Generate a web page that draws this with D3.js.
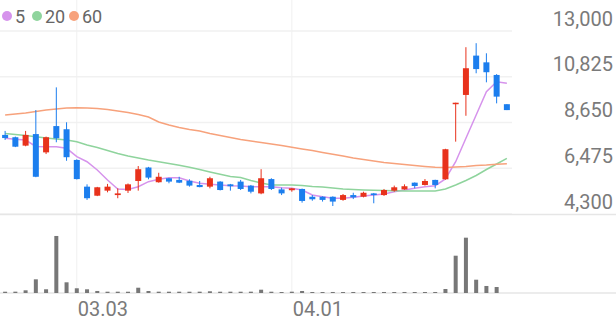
<!DOCTYPE html>
<html>
<head>
<meta charset="utf-8">
<script src="https://cdn.jsdelivr.net/npm/d3@7"></script>
<style>
body { margin: 0; background: #fff; }
text { font-family: Roboto, sans-serif; }
</style>
</head>
<body>
<div id="chart"></div>
<script>
var dates = ['02.19', '02.20', '02.23', '02.24', '02.25', '02.26', '02.27', '03.03', '03.04', '03.05',
	'03.06', '03.09', '03.10', '03.11', '03.12', '03.13', '03.16', '03.17', '03.18', '03.19',
	'03.20', '03.23', '03.24', '03.25', '03.26', '03.27', '03.30', '03.31', '04.01', '04.02',
	'04.03', '04.06', '04.07', '04.08', '04.09', '04.10', '04.13', '04.14', '04.15', '04.16',
	'04.17', '04.20', '04.21', '04.22', '04.23', '04.24', '04.27', '04.28', '04.29', '04.30'];

var open = [8060, 7950, 7550, 8100, 7230, 8480, 8330, 6870, 5600, 5170,
	5410, 5200, 5410, 5870, 6510, 5810, 6000, 5920, 5880, 5680,
	5600, 5840, 5710, 5840, 5650, 5280, 5960, 5470, 5430, 5490,
	5120, 5120, 5120, 4970, 5200, 5120, 5280, 5200, 5410, 5470,
	5790, 5680, 5920, 5950, 9560, 9960, 11830, 11510, 10910, 9520];
var high = [8250, 7980, 8250, 9240, 7980, 10320, 8660, 6900, 5710, 5590,
	5730, 5520, 5750, 6580, 6540, 6260, 6020, 6070, 5950, 5870,
	6070, 5860, 5730, 5920, 5680, 6430, 6000, 5550, 5540, 5510,
	5200, 5140, 5140, 5250, 5310, 5360, 5300, 5490, 5650, 5710,
	5800, 5960, 5930, 7400, 9590, 12230, 12420, 11940, 10950, 9520];
var low = [7820, 7480, 7520, 6050, 7150, 7710, 6830, 5940, 4970, 5150,
	5330, 5050, 5300, 5410, 5950, 5790, 5760, 5770, 5600, 5570,
	5520, 5420, 5410, 5440, 5280, 5240, 5440, 5200, 5360, 4840,
	4930, 4890, 4680, 4930, 5010, 5090, 4810, 5160, 5360, 5450,
	5520, 5650, 5520, 5930, 7740, 8970, 10990, 10560, 9560, 9240];
var close = [7910, 7500, 8060, 6070, 7950, 7900, 7000, 5960, 5050, 5570,
	5600, 5280, 5710, 6430, 6030, 6070, 5840, 5790, 5650, 5580,
	6000, 5440, 5620, 5490, 5360, 6000, 5490, 5280, 5520, 4920,
	5000, 4970, 4890, 5200, 5090, 5310, 5200, 5440, 5570, 5620,
	5630, 5870, 5680, 7380, 9590, 11230, 11190, 11040, 9880, 9240];

var ma5 = [7899, 7851, 7818, 7509, 7499, 7499, 7423, 7024, 6786, 6392,
	5916, 5489, 5465, 5598, 5836, 5950, 6026, 6026, 5869, 5759,
	5712, 5679, 5645, 5631, 5598, 5598, 5598, 5550, 5522, 5441,
	5203, 5122, 5046, 5046, 5094, 5156, 5203, 5251, 5360, 5441,
	5522, 5598, 5645, 5964, 6786, 7899, 9006, 10114, 10590, 10513];
var ma20 = [8127, 8079, 8032, 7975, 7913, 7866, 7818, 7737, 7580, 7461,
	7319, 7176, 7057, 6962, 6867, 6786, 6701, 6615, 6520, 6416,
	6297, 6187, 6083, 6035, 5893, 5774, 5679, 5679, 5679, 5655,
	5607, 5584, 5536, 5489, 5465, 5441, 5427, 5417, 5408, 5393,
	5393, 5393, 5393, 5489, 5679, 5893, 6130, 6416, 6677, 6948];
var ma60 = [9006, 9054, 9101, 9173, 9244, 9292, 9339, 9353, 9339, 9315,
	9268, 9197, 9125, 9030, 8911, 8674, 8531, 8412, 8317, 8246,
	8127, 8032, 7937, 7842, 7770, 7699, 7628, 7556, 7471, 7390,
	7319, 7224, 7138, 7057, 6962, 6891, 6820, 6748, 6701, 6653,
	6606, 6558, 6520, 6511, 6534, 6558, 6606, 6629, 6663, 6691];

var volume = [64200, 66800, 134500, 683900, 186200, 2851300, 534700, 236100, 184900, 101300,
	64800, 65900, 63700, 264100, 99800, 66300, 64900, 65200, 63800, 66100,
	85400, 64600, 65700, 64300, 66500, 165200, 64100, 49800, 65300, 100200,
	50400, 49600, 51200, 48900, 50700, 49300, 50100, 50800, 49500, 51000,
	49900, 50300, 50600, 199700, 1864800, 2766100, 664900, 351200, 299400, 0];

var ma_names = ['5', '20', '60'];
var ma_colors = ['#d693ec', '#8fd49d', '#f7a27c'];
var x_tick_labels = ['03.03', '04.01'];
var y_tick_values = [13000, 10825, 8650, 6475, 4300];

var chart_width = 616;
var chart_height = 321;
var plot_right = 512;

var svg = d3.select('#chart')
	.append('svg')
	.attr('width', chart_width)
	.attr('height', chart_height);

// Scales
var x_scale = d3.scaleBand()
	.domain(dates)
	.range([0, plot_right]);
var y_scale = d3.scaleLinear()
	.domain([4300, 13000])
	.range([214, 31]);
var v_scale = d3.scaleLinear()
	.domain([0, 3900000])
	.range([293, 215]);

function cx(i) {
	return x_scale(dates[i]) + x_scale.bandwidth() / 2;
}

// Grid
svg.append('g').selectAll('line')
	.data(y_tick_values)
	.enter()
	.append('line')
	.attr('x1', 0)
	.attr('x2', plot_right)
	.attr('y1', function(d){ return y_scale(d); })
	.attr('y2', function(d){ return y_scale(d); })
	.attr('stroke', '#f1f1f1')
	.attr('stroke-width', 1.5);

svg.append('g').selectAll('line')
	.data(x_tick_labels)
	.enter()
	.append('line')
	.attr('x1', function(d){ return x_scale(d) + x_scale.bandwidth() / 2; })
	.attr('x2', function(d){ return x_scale(d) + x_scale.bandwidth() / 2; })
	.attr('y1', 0)
	.attr('y2', 293)
	.attr('stroke', '#f0f0f0')
	.attr('stroke-width', 1);

svg.append('g').selectAll('line')
	.data([214.5, 293])
	.enter()
	.append('line')
	.attr('x1', 0)
	.attr('x2', chart_width)
	.attr('y1', function(d){ return d; })
	.attr('y2', function(d){ return d; })
	.attr('stroke', '#e6e6e6')
	.attr('stroke-width', 1.5);

// Y axis
var y_axis = d3.axisLeft(y_scale)
	.tickValues(y_tick_values)
	.tickFormat(d3.format(','))
	.tickSize(0)
	.tickPadding(0);
var y_g = svg.append('g')
	.attr('transform', 'translate(613,0)')
	.call(y_axis);
y_g.select('.domain').remove();
y_g.selectAll('text')
	.attr('dy', '-6px')
	.attr('font-size', 20)
	.attr('font-family', 'Roboto, sans-serif')
	.attr('fill', '#7a7a7a');

// X axis
var x_axis = d3.axisBottom(x_scale)
	.tickValues(x_tick_labels)
	.tickSize(0)
	.tickPadding(0);
var x_g = svg.append('g')
	.attr('transform', 'translate(0,293)')
	.call(x_axis);
x_g.select('.domain').remove();
x_g.selectAll('text')
	.attr('text-anchor', 'start')
	.attr('dy', 0)
	.attr('y', 23)
	.attr('x', 1)
	.attr('font-size', 20)
	.attr('font-family', 'Roboto, sans-serif')
	.attr('fill', '#7a7a7a');

// Moving averages
var ma_series = [ma5, ma20, ma60];
var line = d3.line()
	.x(function(d, i){ return cx(i); })
	.y(function(d){ return y_scale(d); });

svg.append('g').selectAll('path')
	.data(ma_series)
	.enter()
	.append('path')
	.attr('d', line)
	.attr('fill', 'none')
	.attr('stroke', function(d, i){ return ma_colors[i]; })
	.attr('stroke-width', 1.5);

// Candles
var up_color = '#e8321c';
var down_color = '#1c7eee';
function candle_color(i) {
	return close[i] >= open[i] ? up_color : down_color;
}

var candles = svg.append('g').selectAll('g')
	.data(dates)
	.enter()
	.append('g');

candles.append('line')
	.attr('x1', function(d, i){ return cx(i); })
	.attr('x2', function(d, i){ return cx(i); })
	.attr('y1', function(d, i){ return y_scale(high[i]); })
	.attr('y2', function(d, i){ return y_scale(low[i]); })
	.attr('stroke', function(d, i){ return candle_color(i); })
	.attr('stroke-width', 1);

candles.append('rect')
	.attr('x', function(d, i){ return cx(i) - 3; })
	.attr('width', 6)
	.attr('y', function(d, i){ return y_scale(Math.max(open[i], close[i])); })
	.attr('height', function(d, i){
		return Math.max(1.5, Math.abs(y_scale(open[i]) - y_scale(close[i])));
	})
	.attr('fill', function(d, i){ return candle_color(i); });

// Volume
svg.append('g').selectAll('rect')
	.data(volume)
	.enter()
	.append('rect')
	.attr('x', function(d, i){ return cx(i) - 2; })
	.attr('width', 4)
	.attr('y', function(d){ return v_scale(d); })
	.attr('height', function(d){ return 293 - v_scale(d); })
	.attr('fill', '#777777');

// Legend
var legend_x = [7, 37, 74];
var legend = svg.append('g').selectAll('g')
	.data(ma_names)
	.enter()
	.append('g')
	.attr('transform', function(d, i){ return 'translate(' + legend_x[i] + ',16)'; });
legend.append('circle')
	.attr('r', 5)
	.attr('fill', function(d, i){ return ma_colors[i]; });
legend.append('text')
	.text(function(d){ return d; })
	.attr('x', 8)
	.attr('y', 6.5)
	.attr('font-size', 18)
	.attr('fill', '#666');
</script>
</body>
</html>
